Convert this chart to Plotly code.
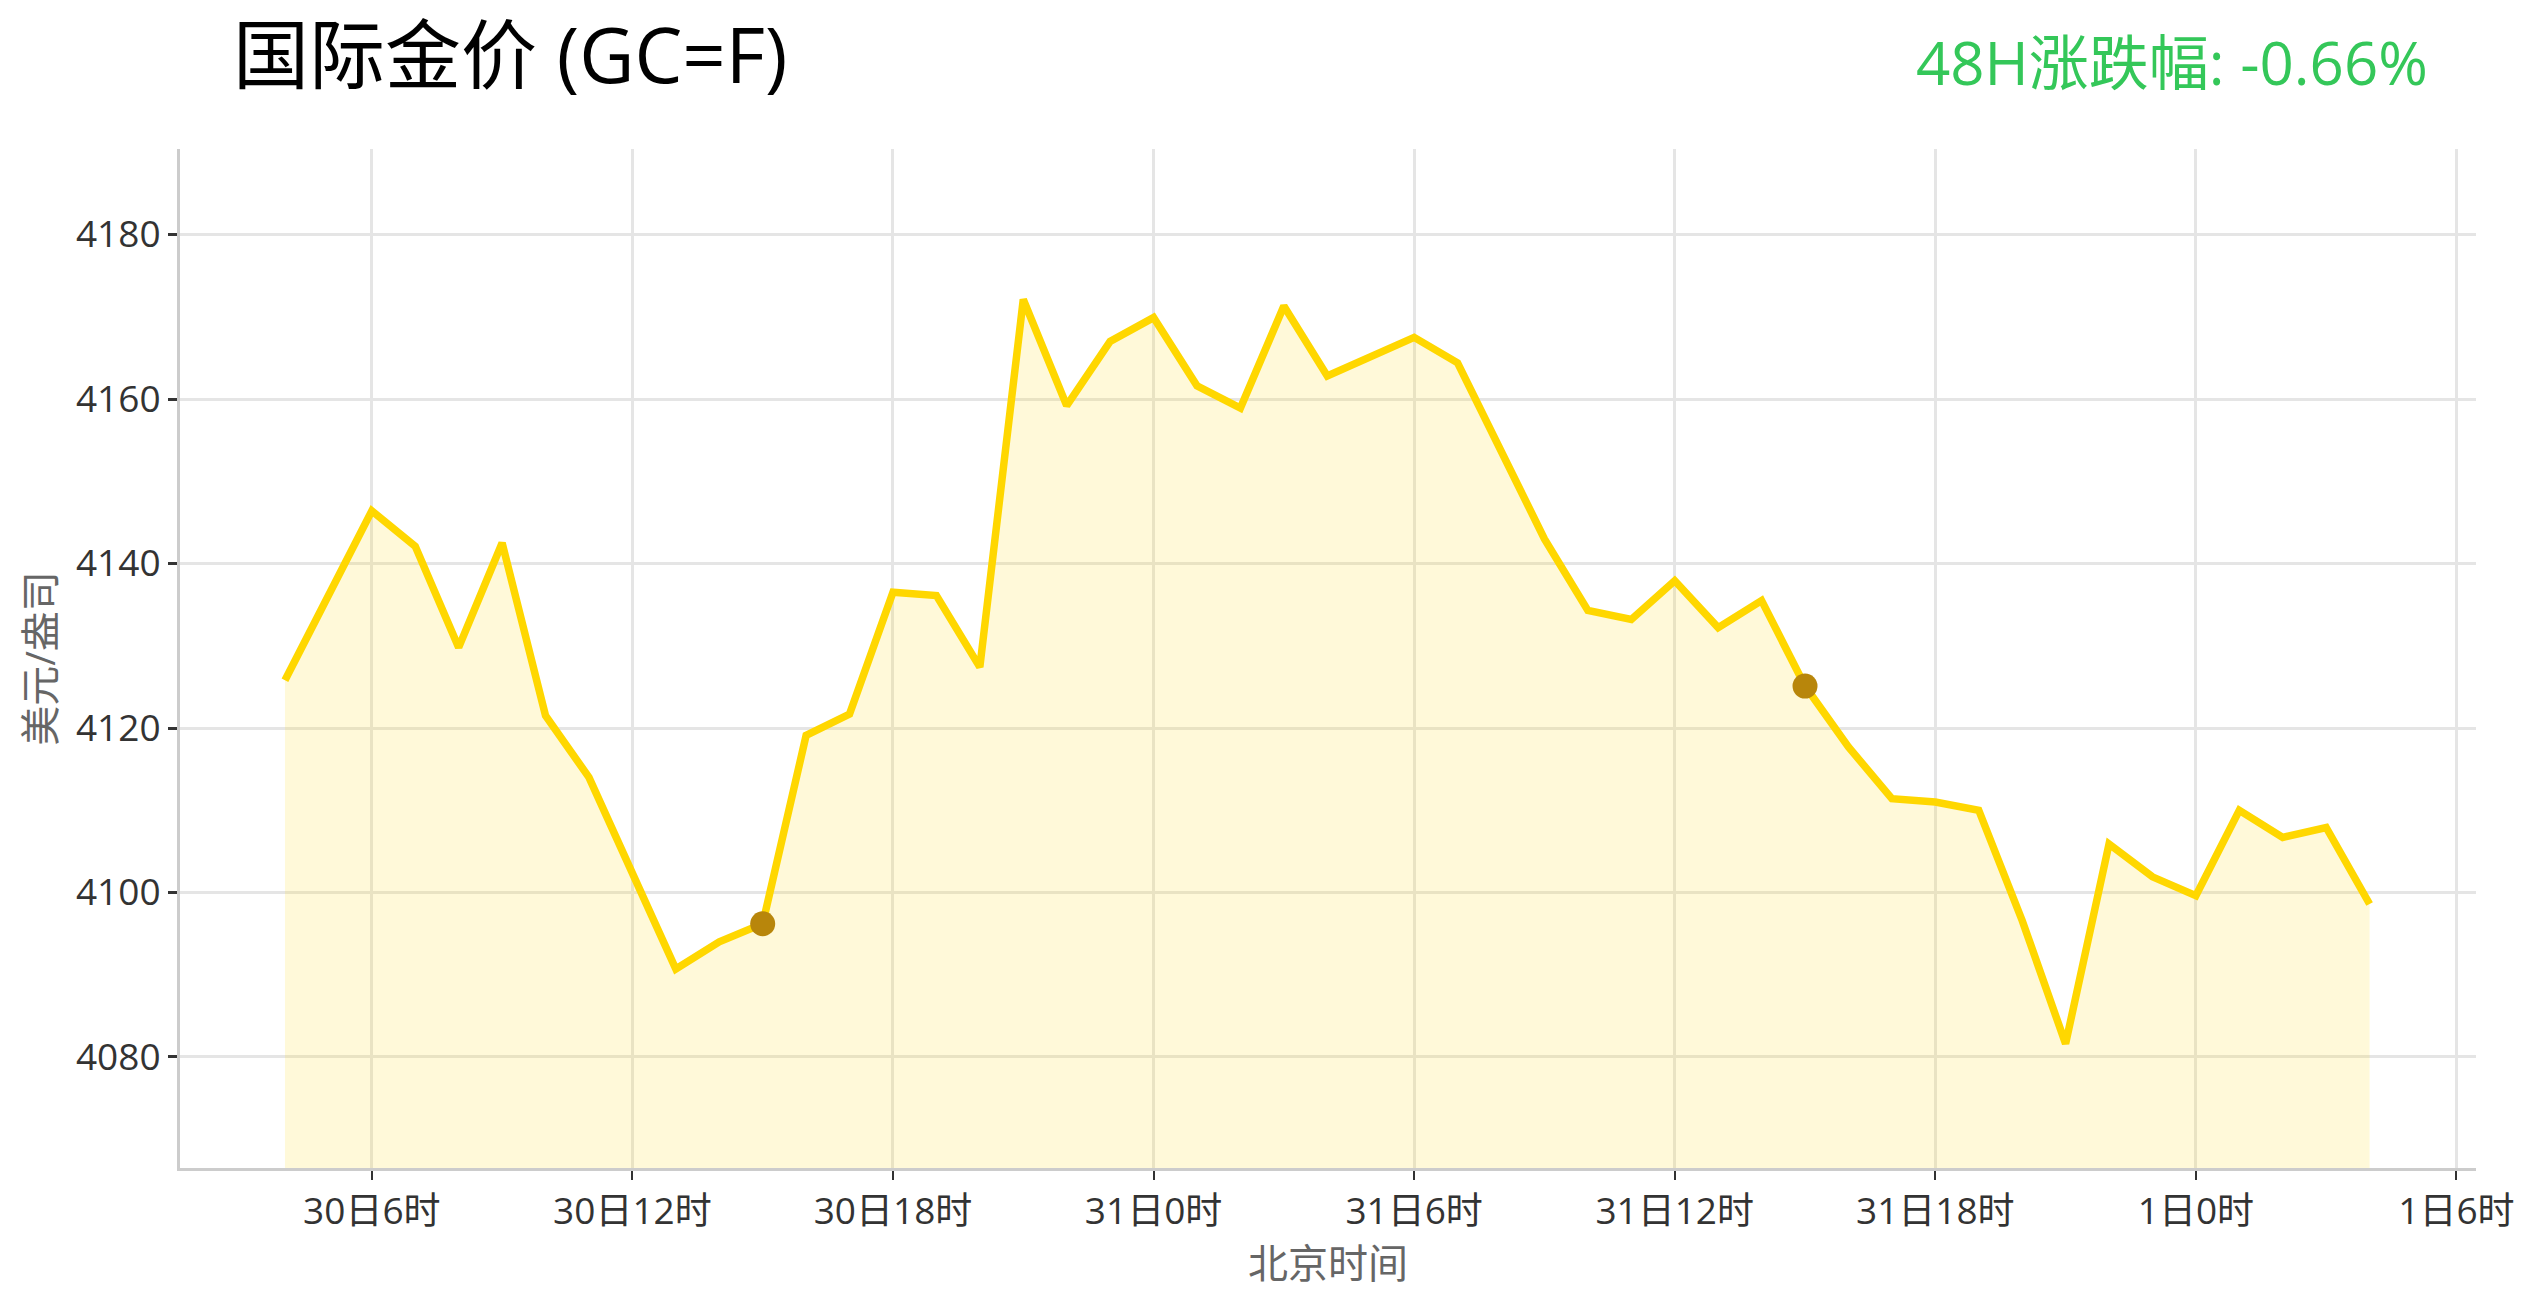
import pandas as pd
import plotly.graph_objects as go

# hourly quotes, Beijing time, 30th 04:00 -> 1st 04:00
times = pd.date_range('2025-10-30 04:00', periods=49, freq='h')
prices = [
    4125.8, 4136.1, 4146.4, 4142.1, 4129.8, 4142.5, 4121.5, 4114.0,
    4102.5, 4090.7, 4094.0, 4096.2, 4119.1, 4121.7, 4136.5, 4136.1,
    4127.4, 4172.1, 4159.2, 4167.0, 4169.9, 4161.6, 4158.9, 4171.3,
    4162.8, 4165.2, 4167.5, 4164.4, 4153.7, 4143.0, 4134.3, 4133.2,
    4137.9, 4132.2, 4135.5, 4125.1, 4117.7, 4111.4, 4111.0, 4110.0,
    4096.6, 4081.6, 4105.9, 4101.9, 4099.6, 4110.0, 4106.7, 4107.9,
    4098.6,
]
# highlighted points (15:00 each day)
mark_idx = [11, 35]

tick_vals = pd.date_range('2025-10-30 06:00', periods=9, freq='6h')
tick_text = ['30日6时', '30日12时', '30日18时', '31日0时', '31日6时',
             '31日12时', '31日18时', '1日0时', '1日6时']

change_pct = (prices[-1] - prices[0]) / prices[0] * 100

FONT = 'Open Sans, Noto Sans CJK SC, sans-serif'

fig = go.Figure()
fig.add_trace(go.Scatter(
    x=times, y=prices, mode='lines',
    line=dict(color='#FFD700', width=7.5),
    fill='tozeroy', fillcolor='rgba(255,215,0,0.15)',
    showlegend=False,
))
fig.add_trace(go.Scatter(
    x=[times[i] for i in mark_idx], y=[prices[i] for i in mark_idx],
    mode='markers', marker=dict(color='#B8860B', size=25),
    showlegend=False,
))

# page body has an 8px margin, so the figure is sized to fit inside it
fig.update_layout(
    width=2523, height=1286,
    margin=dict(l=172, r=55, t=141, b=126),
    plot_bgcolor='white', paper_bgcolor='white',
    font=dict(family=FONT, size=37, color='#333333'),
    title=dict(text='国际金价 (GC=F)', x=0.0892, xanchor='left',
               y=0.962, yanchor='middle',
               font=dict(family=FONT, size=76, color='black')),
    annotations=[dict(
        text=f'48H涨跌幅: {change_pct:.2f}%', xref='paper', yref='paper',
        x=0.980, y=1.085, xanchor='right', yanchor='middle', showarrow=False,
        font=dict(family=FONT, size=60, color='#34C759'),
    )],
)
fig.update_xaxes(
    range=['2025-10-30 01:35', '2025-11-01 06:27'],
    tickvals=tick_vals, ticktext=tick_text,
    showgrid=True, gridcolor='#E5E5E5', gridwidth=3,
    showline=True, linecolor='#CCCCCC', linewidth=3,
    ticks='outside', ticklen=9, tickwidth=2, tickcolor='#333333',
    title=dict(text='北京时间', font=dict(size=40, color='#666666'), standoff=8),
)
fig.update_yaxes(
    range=[4066.5, 4190.4], dtick=20,
    showgrid=True, gridcolor='#E5E5E5', gridwidth=3,
    showline=True, linecolor='#CCCCCC', linewidth=3,
    ticks='outside', ticklen=9, tickwidth=3, tickcolor='#333333',
    zeroline=False,
    title=dict(text='美元/盎司', font=dict(size=40, color='#666666'), standoff=8),
)

fig.write_html('out.html')
